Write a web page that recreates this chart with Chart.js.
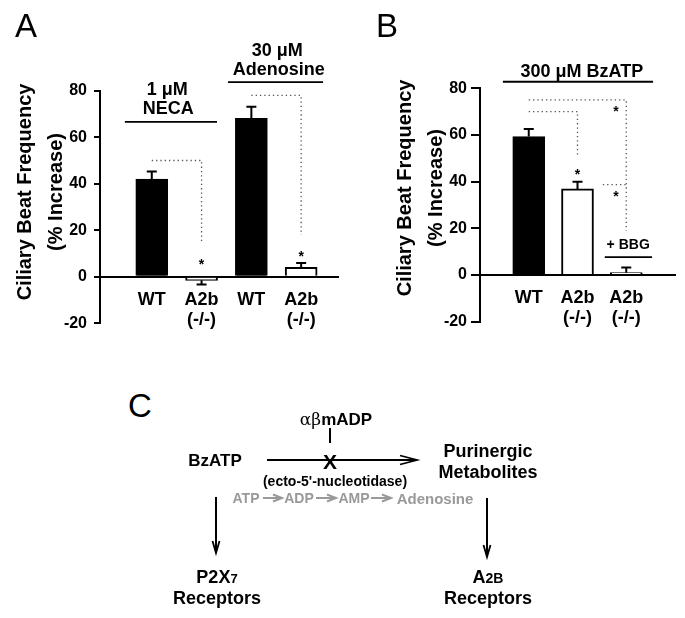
<!DOCTYPE html>
<html>
<head>
<meta charset="utf-8">
<script src="https://cdn.jsdelivr.net/npm/chart.js@4.4.1/dist/chart.umd.min.js"></script>
<style>
  body { margin: 0; background: #fff; }
  #fig { position: relative; width: 685px; height: 618px; overflow: hidden;
         font-family: "Liberation Sans", Arial, sans-serif; color: #000; }
  canvas { position: absolute; top: 0; }
  .t { position: absolute; white-space: nowrap; font-weight: bold; line-height: 1;
       transform: translate(-50%, -50%); }
  .letter { font-weight: normal; font-size: 33px; }
  .gray { color: #999; font-size: 14px; }
  svg { position: absolute; left: 0; top: 0; }
</style>
</head>
<body>
<div id="fig">
  <canvas id="chartA" width="340" height="340" style="left:0"></canvas>
  <canvas id="chartB" width="345" height="340" style="left:340px"></canvas>

  <div class="t letter" style="left:26px;top:25px">A</div>
  <div class="t letter" style="left:387px;top:25px">B</div>
  <div class="t letter" style="left:140px;top:405px">C</div>

  <!-- panel C: pathway scheme -->
  <svg width="685" height="618">
    <g stroke="#000" stroke-width="2" fill="none">
      <line x1="330" y1="428" x2="330" y2="443"/>
      <line x1="267" y1="460" x2="416" y2="460"/>
      <polyline points="400,455.5 417,460 400,464.5" stroke-width="1.8"/>
      <line x1="216" y1="497" x2="216" y2="552"/>
      <polyline points="212.5,541 216,553 219.5,541" stroke-width="1.8"/>
      <line x1="487" y1="498" x2="487" y2="556"/>
      <polyline points="483.5,545 487,557 490.5,545" stroke-width="1.8"/>
    </g>
    <g stroke="#999" stroke-width="2" fill="none">
      <line x1="263" y1="498" x2="281" y2="498"/>
      <polyline points="273,494.5 282,498 273,501.5"/>
      <line x1="316" y1="498" x2="335" y2="498"/>
      <polyline points="327,494.5 336,498 327,501.5"/>
      <line x1="371" y1="498" x2="390" y2="498"/>
      <polyline points="382,494.5 391,498 382,501.5"/>
    </g>
  </svg>
  <div class="t" style="left:336px;top:419px;font-size:17px"><span style="font-family:'DejaVu Serif','Liberation Serif',serif;font-weight:normal">αβ</span>mADP</div>
  <div class="t" style="left:215px;top:460px;font-size:17px">BzATP</div>
  <div class="t" style="left:330px;top:461px;font-size:21px">X</div>
  <div class="t" style="left:335px;top:481px;font-size:14px">(ecto-5'-nucleotidase)</div>
  <div class="t gray" style="left:246px;top:498px">ATP</div>
  <div class="t gray" style="left:299px;top:498px">ADP</div>
  <div class="t gray" style="left:354px;top:498px">AMP</div>
  <div class="t gray" style="left:435px;top:498px;font-size:15px">Adenosine</div>
  <div class="t" style="left:488px;top:451px;font-size:18px">Purinergic</div>
  <div class="t" style="left:488px;top:472px;font-size:18px">Metabolites</div>
  <div class="t" style="left:217px;top:577px;font-size:18px">P2X<span style="font-size:13px">7</span></div>
  <div class="t" style="left:217px;top:598px;font-size:18px">Receptors</div>
  <div class="t" style="left:488px;top:577px;font-size:18px">A<span style="font-size:14px">2B</span></div>
  <div class="t" style="left:488px;top:598px;font-size:18px">Receptors</div>
</div>

<script>
// ---- data ----
const yTicks = [-20, 0, 20, 40, 60, 80];
const yTitle = ['Ciliary Beat Frequency', '(% Increase)'];

const groupsA = ['WT', 'A2b (-/-)', 'WT', 'A2b (-/-)'];
const meansA = [42.0, -1.5, 68.1, 4.1];
const semA = [3.3, 1.8, 5.0, 1.9];

const groupsB = ['WT', 'A2b (-/-)', 'A2b (-/-)'];
const meansB = [59.3, 36.9, 1.0];
const semB = [3.3, 3.1, 2.2];

// ---- annotations, in axis units ----
const notesA = {
  texts: [['1 μM', 1.31, 80.5], ['NECA', 1.33, 72.1], ['30 μM', 3.52, 97], ['Adenosine', 3.55, 88.9]],
  rules: [[0.46, 2.31, 66.6], [2.53, 4.44, 83.7]],
  dots: [[[1, 50], [2, 50], [2, 15]], [[3, 78], [4, 78], [4, 18]]],
  stars: [[2, 6.7], [4, 10.3]]
};
const notesB = {
  texts: [['300 μM BzATP', 2.09, 87], ['+ BBG', 3.04, 12.9, 14]],
  rules: [[0.47, 3.55, 82.8], [2.56, 3.53, 7.7]],
  dots: [[[1, 75], [3, 75], [3, 19]], [[1, 70], [2, 70], [2, 51]], [[2.52, 38.7], [3, 38.7]]],
  stars: [[2.79, 71.6], [2, 44.6], [2.79, 35.1]]
};

const FONT = '"Liberation Sans", Arial, sans-serif';

function errorBars(sem) {
  return {
    id: 'errorBars',
    afterDatasetsDraw(chart) {
      const {ctx, scales: {y}} = chart;
      const ds = chart.data.datasets[0];
      ctx.save();
      ctx.strokeStyle = '#000';
      ctx.lineWidth = 2;
      chart.getDatasetMeta(0).data.forEach((bar, i) => {
        const m = ds.data[i].y;
        const tip = y.getPixelForValue(m < 0 ? m - sem[i] : m + sem[i]);
        ctx.beginPath();
        ctx.moveTo(bar.x, bar.y);
        ctx.lineTo(bar.x, tip);
        ctx.moveTo(bar.x - 5, tip);
        ctx.lineTo(bar.x + 5, tip);
        ctx.stroke();
      });
      ctx.restore();
    }
  };
}

function notes(n) {
  return {
    id: 'notes',
    afterDraw(chart) {
      const {ctx, scales: {x, y}} = chart;
      ctx.save();
      ctx.fillStyle = '#000';
      ctx.textAlign = 'center';
      ctx.textBaseline = 'middle';
      n.texts.forEach(([t, vx, vy, size]) => {
        ctx.font = `bold ${size || 18}px ${FONT}`;
        ctx.fillText(t, x.getPixelForValue(vx), y.getPixelForValue(vy));
      });
      ctx.strokeStyle = '#000';
      ctx.lineWidth = 1.8;
      n.rules.forEach(([a, b, vy]) => {
        ctx.beginPath();
        ctx.moveTo(x.getPixelForValue(a), y.getPixelForValue(vy));
        ctx.lineTo(x.getPixelForValue(b), y.getPixelForValue(vy));
        ctx.stroke();
      });
      ctx.strokeStyle = '#555';
      ctx.lineWidth = 1.3;
      ctx.setLineDash([1.3, 3]);
      n.dots.forEach(path => {
        ctx.beginPath();
        path.forEach(([vx, vy], i) => {
          const px = x.getPixelForValue(vx), py = y.getPixelForValue(vy);
          i ? ctx.lineTo(px, py) : ctx.moveTo(px, py);
        });
        ctx.stroke();
      });
      ctx.setLineDash([]);
      ctx.font = `bold 14px ${FONT}`;
      ctx.textBaseline = 'alphabetic';
      n.stars.forEach(([vx, vy]) => {
        ctx.fillText('*', x.getPixelForValue(vx), y.getPixelForValue(vy) + 8);
      });
      ctx.restore();
    }
  };
}

function yTitlePlugin(x1, x2, yc) {
  return {
    id: 'yTitle',
    afterDraw(chart) {
      const ctx = chart.ctx;
      ctx.save();
      ctx.fillStyle = '#000';
      ctx.font = `bold 20px ${FONT}`;
      ctx.textAlign = 'center';
      ctx.textBaseline = 'middle';
      [x1, x2].forEach((px, i) => {
        ctx.save();
        ctx.translate(px, yc);
        ctx.rotate(-Math.PI / 2);
        ctx.fillText(yTitle[i], 0, 0);
        ctx.restore();
      });
      ctx.restore();
    }
  };
}

function panel(id, groups, means, sem, n, o) {
  return new Chart(document.getElementById(id), {
    type: 'bar',
    data: {
      datasets: [{
        data: means.map((m, i) => ({x: i + 1, y: m})),
        backgroundColor: groups.map(g => g === 'WT' ? '#000' : '#fff'),
        borderColor: '#000',
        borderWidth: 2,
        barThickness: 32
      }]
    },
    options: {
      responsive: false,
      animation: false,
      events: [],
      layout: {padding: o.padding},
      plugins: {legend: {display: false}, tooltip: {enabled: false}},
      scales: {
        x: {
          type: 'linear',
          min: o.xmin,
          max: o.xmax,
          offset: false,
          position: {y: 0},
          afterFit: s => { s.height = 0; },
          afterBuildTicks: s => { s.ticks = groups.map((g, i) => ({value: i + 1})); },
          grid: {drawOnChartArea: false, drawTicks: false, offset: false},
          border: {color: '#000', width: 2},
          ticks: {
            callback: (v, i) => groups[i].split(' '),
            font: {family: FONT, size: 18, weight: 'bold', lineHeight: 1.1},
            color: '#000',
            padding: 13,
            maxRotation: 0,
            autoSkip: false
          }
        },
        y: {
          min: -20,
          max: 80,
          afterFit: s => { s.width = o.yWidth; },
          afterBuildTicks: s => { s.ticks = yTicks.map(v => ({value: v})); },
          grid: {drawOnChartArea: false, drawTicks: true, tickLength: o.tickLen, color: '#000', lineWidth: 2},
          border: {color: '#000', width: 2},
          ticks: {font: {family: FONT, size: 16, weight: 'bold'}, color: '#000', padding: o.tickPad}
        }
      }
    },
    plugins: [errorBars(sem), notes(n), yTitlePlugin(o.t1, o.t2, o.tc)]
  });
}

panel('chartA', groupsA, meansA, semA, notesA, {
  padding: {top: 90.7, bottom: 16.1, left: 0, right: 2},
  xmin: -0.04, xmax: 4.74, yWidth: 100, tickLen: 6, tickPad: 7,
  t1: 25, t2: 56, tc: 192
});
panel('chartB', groupsB, meansB, semB, notesB, {
  padding: {top: 88.3, bottom: 18.3, left: 0, right: 10},
  xmin: 0, xmax: 4, yWidth: 140, tickLen: 9, tickPad: 4,
  t1: 65, t2: 96, tc: 188
});
</script>
</body>
</html>
